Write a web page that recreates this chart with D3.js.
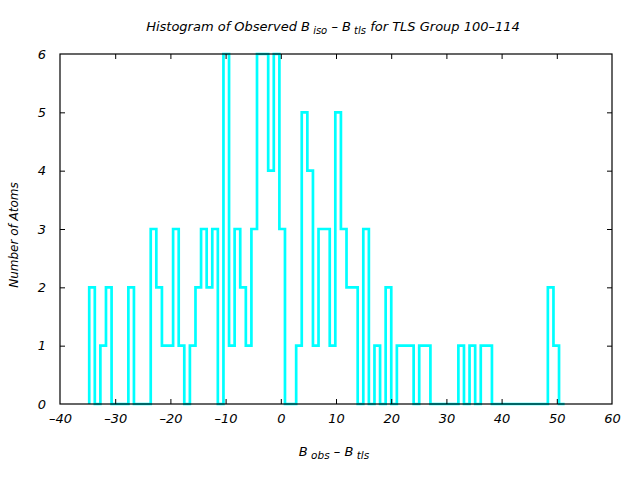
<!DOCTYPE html>
<html>
<head>
<meta charset="utf-8">
<script src="https://cdn.jsdelivr.net/npm/d3@7"></script>
<style>
  html, body { margin: 0; padding: 0; background: #fff; }
  svg { display: block; }
  text { font-family: "DejaVu Sans", Verdana, sans-serif; font-style: italic; fill: #000; }
</style>
</head>
<body>
<svg id="chart" width="640" height="480"></svg>
<script>
// ---- data ----
const binCenters = [
  -34.20, -33.19, -32.18, -31.16, -30.15, -29.14, -28.12, -27.11, -26.10, -25.09,
  -24.07, -23.06, -22.04, -21.03, -20.02, -19.00, -17.99, -16.98, -15.96, -14.95,
  -13.94, -12.92, -11.91, -10.90, -9.88, -8.87, -7.86, -6.84, -5.83, -4.82,
  -3.80, -2.79, -1.78, -0.76, 0.25, 1.26, 2.28, 3.29, 4.30, 5.32,
  6.33, 7.34, 8.36, 9.37, 10.38, 11.40, 12.41, 13.42, 14.44, 15.45,
  16.46, 17.48, 18.49, 19.50, 20.52, 21.53, 22.54, 23.56, 24.57, 25.58,
  26.60, 27.61, 28.62, 29.64, 30.65, 31.66, 32.68, 33.69, 34.70, 35.72,
  36.73, 37.74, 38.76, 39.77, 40.78, 41.80, 42.81, 43.82, 44.84, 45.85,
  46.86, 47.87, 48.89, 49.90, 50.91
];
const atomCounts = [
  2, 0, 1, 2, 0, 0, 0, 2, 0, 0,
  0, 3, 2, 1, 1, 3, 1, 0, 1, 2,
  3, 2, 3, 0, 6, 1, 3, 2, 1, 3,
  6, 6, 4, 6, 3, 0, 0, 1, 5, 4,
  1, 3, 3, 1, 5, 3, 2, 2, 0, 3,
  0, 1, 0, 2, 0, 1, 1, 1, 0, 1,
  1, 0, 0, 0, 0, 0, 1, 0, 1, 0,
  1, 1, 0, 0, 0, 0, 0, 0, 0, 0,
  0, 0, 2, 1, 0
];
const xTicks = [-40, -30, -20, -10, 0, 10, 20, 30, 40, 50, 60];
const yTicks = [0, 1, 2, 3, 4, 5, 6];
const xDomain = [-40, 60];
const yDomain = [0, 6];

// ---- layout ----
const L = 60, R = 612, T = 54, B = 404;
const svg = d3.select("#chart");
const x = d3.scaleLinear().domain(xDomain).range([L, R]);
const y = d3.scaleLinear().domain(yDomain).range([B, T]);

// histeps path (gnuplot-style): steps at midpoints between centers
const n = binCenters.length;
const edges = [];
edges.push(binCenters[0] - (binCenters[1] - binCenters[0]) / 2);
for (let i = 0; i < n - 1; i++) edges.push((binCenters[i] + binCenters[i + 1]) / 2);
edges.push(binCenters[n - 1] + (binCenters[n - 1] - binCenters[n - 2]) / 2);

const pts = [[edges[0], 0]];
for (let i = 0; i < n; i++) {
  pts.push([edges[i], atomCounts[i]]);
  pts.push([edges[i + 1], atomCounts[i]]);
}
pts.push([edges[n], 0]);

svg.append("path")
  .datum(pts)
  .attr("fill", "none")
  .attr("stroke", "#00ffff")
  .attr("stroke-width", 2.7)
  .attr("stroke-linejoin", "miter")
  .attr("d", d3.line().x(d => x(d[0])).y(d => y(d[1])));

// axes (ticks inward, mirrored)
const tickLen = 5;
const fmt = d => String(d).replace("-", "\u2013");

const xAxisB = svg.append("g").attr("transform", `translate(0,${B})`)
  .call(d3.axisBottom(x).tickValues(xTicks).tickSizeInner(-tickLen).tickSizeOuter(0).tickPadding(10).tickFormat(fmt));
const xAxisT = svg.append("g").attr("transform", `translate(0,${T})`)
  .call(d3.axisTop(x).tickValues(xTicks).tickSizeInner(-tickLen).tickSizeOuter(0).tickFormat(""));
const yAxisL = svg.append("g").attr("transform", `translate(${L},0)`)
  .call(d3.axisLeft(y).tickValues(yTicks).tickSizeInner(-tickLen).tickSizeOuter(0).tickPadding(14).tickFormat(fmt));
const yAxisR = svg.append("g").attr("transform", `translate(${R},0)`)
  .call(d3.axisRight(y).tickValues(yTicks).tickSizeInner(-tickLen).tickSizeOuter(0).tickFormat(""));

[xAxisB, xAxisT, yAxisL, yAxisR].forEach(g => {
  g.select(".domain").remove();
  g.selectAll(".tick line").attr("stroke", "#000").attr("stroke-width", 1);
  g.selectAll("text").attr("font-size", 13).attr("font-family", "DejaVu Sans, sans-serif").attr("font-style", "italic").attr("fill", "#000");
});
xAxisB.selectAll(".tick").filter(d => d === -40 || d === 60).select("line").remove();
xAxisT.selectAll(".tick").filter(d => d === -40 || d === 60).select("line").remove();
yAxisL.selectAll(".tick").filter(d => d === 0 || d === 6).select("line").remove();
yAxisR.selectAll(".tick").filter(d => d === 0 || d === 6).select("line").remove();

// frame
svg.append("rect")
  .attr("x", L).attr("y", T).attr("width", R - L).attr("height", B - T)
  .attr("fill", "none").attr("stroke", "#000").attr("stroke-width", 1.2);

// title
const title = svg.append("text").attr("x", 333).attr("y", 31)
  .attr("text-anchor", "middle").attr("font-size", 13);
title.append("tspan").text("Histogram of Observed B");
title.append("tspan").attr("dy", 3).attr("font-size", 10).text(" iso");
title.append("tspan").attr("dy", -3).text("  \u2013 B");
title.append("tspan").attr("dy", 3).attr("font-size", 10).text(" tls");
title.append("tspan").attr("dy", -3).text("  for TLS Group 100\u2013114");

// x label
const xl = svg.append("text").attr("x", 334).attr("y", 456)
  .attr("text-anchor", "middle").attr("font-size", 13);
xl.append("tspan").text("B");
xl.append("tspan").attr("dy", 3).attr("font-size", 10.5).text(" obs");
xl.append("tspan").attr("dy", -3).text("  \u2013 B");
xl.append("tspan").attr("dy", 3).attr("font-size", 10.5).text(" tls");

// y label
svg.append("text")
  .attr("transform", "translate(18,235) rotate(-90)")
  .attr("text-anchor", "middle").attr("font-size", 12)
  .text("Number of Atoms");
</script>
</body>
</html>
